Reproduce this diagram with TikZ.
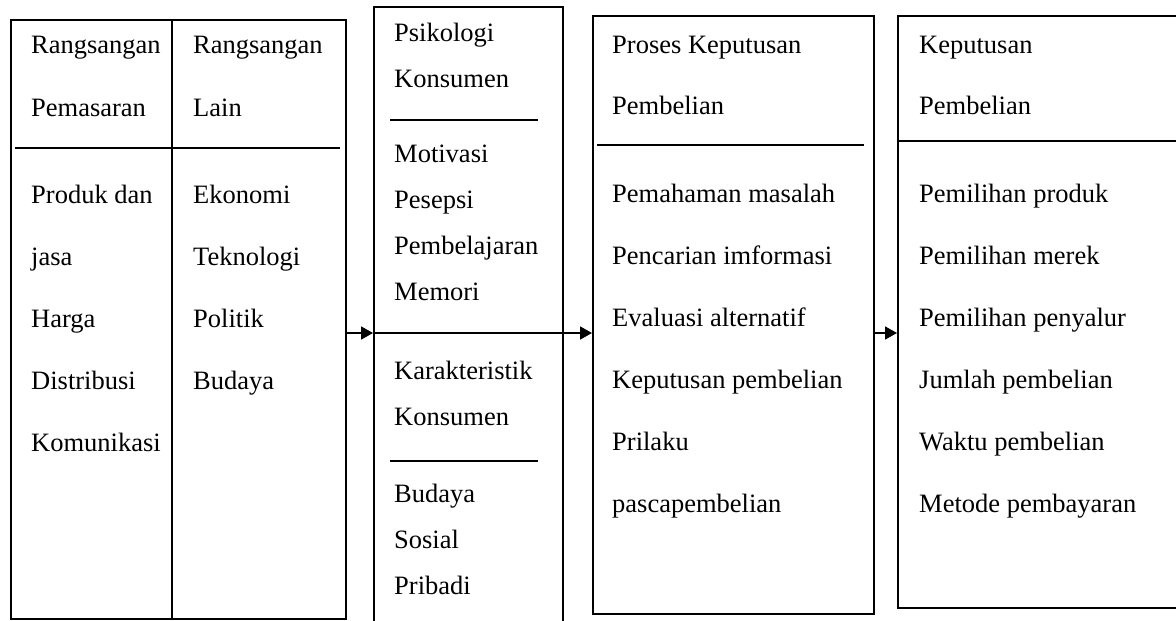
\documentclass[tikz,border=0pt]{standalone}
\usepackage{fontspec}
\setmainfont{Liberation Serif}
\usetikzlibrary{arrows.meta}
\begin{document}
\begin{tikzpicture}[x=1pt,y=-1pt,
  boxs/.style={draw, line width=1.5pt, inner sep=0pt, anchor=north west},
  txt/.style={anchor=base west, inner sep=0pt, font=\fontsize{26.5}{30}\selectfont},
  sep/.style={line width=1.5pt},
  arr/.style={line width=1.8pt, -{Triangle[length=12pt,width=13pt]}}]
\useasboundingbox (0,0) rectangle (1176,621);
% boxes
\node[boxs, minimum width=335pt, minimum height=599pt] (b1) at (10,19) {};
\node[boxs, minimum width=189pt, minimum height=640pt] (b2) at (373,6) {};
\node[boxs, minimum width=281pt, minimum height=598pt] (b3) at (592,15) {};
\node[boxs, minimum width=320pt, minimum height=592pt] (b4) at (897,15) {};
% separators
\coordinate (ay) at (0,333);
\draw[sep] ([xshift=162pt]b1.north west) -- ([xshift=162pt]b1.south west);
\draw[sep] (15,148) -- (340,148);
\draw[sep] (390,120) -- (538,120);
\draw[sep] (b2.west |- ay) -- (b2.east |- ay);
\draw[sep] (390,461) -- (538,461);
\draw[sep] (597,145) -- (864,145);
\draw[sep] (b4.west |- 0,141) -- (1176,141);
% arrows
\draw[arr] (b1.east |- ay) -- (b2.west |- ay);
\draw[arr] (b2.east |- ay) -- (b3.west |- ay);
\draw[arr] (b3.east |- ay) -- (b4.west |- ay);
% box 1, column 1
\foreach \t/\y [count=\i] in {Rangsangan/53, Pemasaran/116, Produk dan/203, jasa/265, Harga/327, Distribusi/389, Komunikasi/451}
  \node[txt] (p\i) at (31,\y) {\t};
% box 1, column 2
\foreach \t/\y [count=\i] in {Rangsangan/53, Lain/116, Ekonomi/203, Teknologi/265, Politik/327, Budaya/389}
  \node[txt] (q\i) at (193,\y) {\t};
% box 2
\foreach \t/\y [count=\i] in {Psikologi/41, Konsumen/87, Motivasi/162, Pesepsi/208, Pembelajaran/254, Memori/300, Karakteristik/379, Konsumen/425, Budaya/502, Sosial/548, Pribadi/594}
  \node[txt] (r\i) at (394,\y) {\t};
% box 3
\foreach \t/\y [count=\i] in {Proses Keputusan/53, Pembelian/114, Pemahaman masalah/202, Pencarian imformasi/264, Evaluasi alternatif/326, Keputusan pembelian/388, Prilaku/450, pascapembelian/512}
  \node[txt] (s\i) at (612,\y) {\t};
% box 4
\foreach \t/\y [count=\i] in {Keputusan/53, Pembelian/114, Pemilihan produk/202, Pemilihan merek/264, Pemilihan penyalur/326, Jumlah pembelian/388, Waktu pembelian/450, Metode pembayaran/512}
  \node[txt] (u\i) at (919,\y) {\t};
\end{tikzpicture}
\end{document}
